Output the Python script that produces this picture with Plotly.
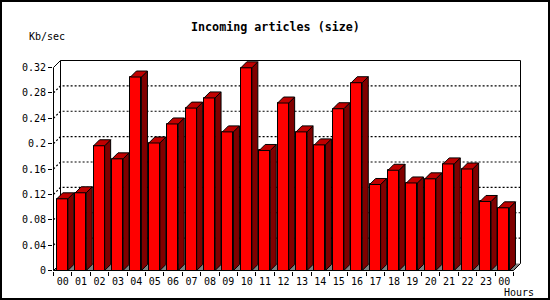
import plotly.graph_objects as go

# ---- data ----
hours = ["00", "01", "02", "03", "04", "05", "06", "07", "08", "09", "10", "11",
         "12", "13", "14", "15", "16", "17", "18", "19", "20", "21", "22", "23", "00"]
kb_sec = [0.113, 0.1225, 0.1966, 0.176, 0.305, 0.201, 0.231, 0.256, 0.272, 0.2185,
          0.3195, 0.1892, 0.264, 0.2185, 0.198, 0.255, 0.296, 0.1356, 0.158, 0.138,
          0.1445, 0.168, 0.160, 0.1088, 0.0988]
y_ticks = [0, 0.04, 0.08, 0.12, 0.16, 0.2, 0.24, 0.28, 0.32]
y_tick_text = ["0", "0.04", "0.08", "0.12", "0.16", "0.2", "0.24", "0.28", "0.32"]
title_text = "Incoming articles (size)"
y_title = "Kb/sec"
x_title = "Hours"

# ---- geometry (pixel scales) ----
W, H = 550, 300
ML, MR, MT, MB = 53, 28, 58, 29
PW, PH = W - ML - MR, H - MT - MB
PX_X = 18.4            # px per category
PX_Y = 203 / 0.32      # px per unit value
X0 = -0.5 / PX_X
Y0 = -0.5 / PX_Y
X1 = X0 + PW / PX_X
Y1 = Y0 + PH / PX_Y
N = len(hours)
YMAX = y_ticks[-1]
DXW, DYW = 7 / PX_X, 7 / PX_Y    # wall depth
DXB, DYB = 6 / PX_X, 6 / PX_Y    # bar depth
BL, BW = 0.18, 0.6               # bar left offset & width within category

fig = go.Figure()

# front faces
fig.add_trace(go.Bar(
    x=[i + BL + BW / 2 for i in range(N)], y=kb_sec, width=BW,
    marker=dict(color="#FF0000", line=dict(color="black", width=1)),
    hoverinfo="skip", showlegend=False))

side_x, side_y, top_x, top_y = [], [], [], []
for i, v in enumerate(kb_sec):
    xl, xr = i + BL, i + BL + BW
    side_x += [xr, xr + DXB, xr + DXB, xr, xr, None]
    side_y += [0, DYB, v + DYB, v, 0, None]
    top_x += [xl, xl + DXB, xr + DXB, xr, xl, None]
    top_y += [v, v + DYB, v + DYB, v, v, None]

fig.add_trace(go.Scatter(x=side_x, y=side_y, mode="lines", fill="toself",
                         fillcolor="#800000", line=dict(color="black", width=1),
                         hoverinfo="skip", showlegend=False))
fig.add_trace(go.Scatter(x=top_x, y=top_y, mode="lines", fill="toself",
                         fillcolor="#C00000", line=dict(color="black", width=1),
                         hoverinfo="skip", showlegend=False))

shapes = []
# floor
shapes.append(dict(type="path", xref="x", yref="y", layer="below",
                   path=f"M0,0 L{N},0 L{N + DXW},{DYW} L{DXW},{DYW} Z",
                   fillcolor="#808080", line=dict(width=0)))
# dotted grid lines on back wall
for v in y_ticks[1:-1]:
    shapes.append(dict(type="path", xref="x", yref="y", layer="below",
                       path=f"M0,{v} L{DXW},{v + DYW} L{N + DXW},{v + DYW}",
                       line=dict(color="black", width=1.2, dash="2px,2px")))
# wall outlines
wall = [((DXW, DYW), (DXW, YMAX + DYW)),
        ((DXW, YMAX + DYW), (N + DXW, YMAX + DYW)),
        ((N + DXW, DYW), (N + DXW, YMAX + DYW)),
        ((0, YMAX), (DXW, YMAX + DYW)),
        ((N, 0), (N + DXW, DYW)),
        ((0, 0), (DXW, DYW))]
for (a, b) in wall:
    shapes.append(dict(type="line", xref="x", yref="y", layer="below",
                       x0=a[0], y0=a[1], x1=b[0], y1=b[1],
                       line=dict(color="black", width=1)))
# front axes
shapes.append(dict(type="line", xref="x", yref="y", layer="above",
                   x0=0, y0=0, x1=0, y1=YMAX, line=dict(color="black", width=1)))
shapes.append(dict(type="line", xref="x", yref="y", layer="above",
                   x0=0, y0=0, x1=N, y1=0, line=dict(color="black", width=1)))


def px2paper_x(px):
    return (px - ML) / PW


def px2paper_y(py):
    return (H - MB - py) / PH


# outer frame
shapes.append(dict(type="rect", xref="paper", yref="paper",
                   x0=px2paper_x(1), x1=px2paper_x(549),
                   y0=px2paper_y(299), y1=px2paper_y(1),
                   line=dict(color="black", width=2)))

mono = "DejaVu Sans Mono"
annotations = [
    dict(text=f"<b>{title_text}</b>", xref="paper", yref="paper",
         x=px2paper_x(275), y=px2paper_y(26.7), showarrow=False,
         xanchor="center", yanchor="middle",
         font=dict(family=mono, size=11.7, color="black")),
    dict(text=y_title, xref="paper", yref="paper",
         x=px2paper_x(47), y=px2paper_y(37), showarrow=False,
         xanchor="center", yanchor="middle",
         font=dict(family=mono, size=10, color="black")),
    dict(text=x_title, xref="paper", yref="paper",
         x=px2paper_x(519), y=px2paper_y(292), showarrow=False,
         xanchor="center", yanchor="middle",
         font=dict(family=mono, size=10, color="black")),
]

fig.update_layout(
    width=W, height=H,
    margin=dict(l=ML, r=MR, t=MT, b=MB, pad=0),
    paper_bgcolor="white", plot_bgcolor="white",
    showlegend=False, bargap=0,
    shapes=shapes, annotations=annotations,
    xaxis=dict(range=[X0, X1], showline=False, showgrid=False, zeroline=False,
               tickmode="array", tickvals=[i + 0.5 for i in range(N)], ticktext=hours,
               ticks="", ticklabelstandoff=3,
               tickfont=dict(family=mono, size=10, color="black"),
               minor=dict(tickmode="array", tickvals=list(range(N + 1)),
                          ticks="outside", ticklen=4, tickwidth=1, tickcolor="black",
                          showgrid=False),
               fixedrange=True),
    yaxis=dict(range=[Y0, Y1], showline=False, showgrid=False, zeroline=False,
               tickmode="array", tickvals=y_ticks, ticktext=y_tick_text,
               ticks="outside", ticklen=4, tickwidth=1, tickcolor="black",
               tickfont=dict(family=mono, size=10, color="black"),
               fixedrange=True),
)

fig.write_html("out.html", config={"displayModeBar": False})
